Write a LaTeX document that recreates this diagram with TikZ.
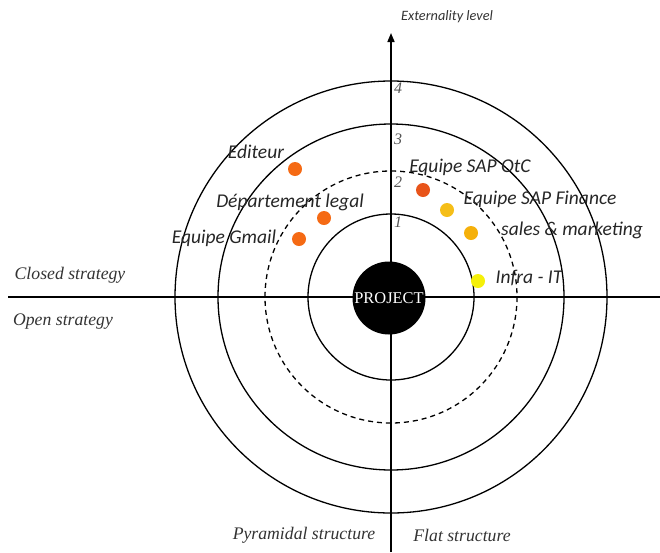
\documentclass[tikz,border=0pt]{standalone}
\usepackage{fontspec}
\setmainfont{Liberation Serif}
\newfontfamily\lblfont{Carlito}
\usetikzlibrary{arrows.meta}
\definecolor{redorange}{HTML}{E8541A}
\definecolor{orange}{HTML}{F56A14}
\definecolor{gold}{HTML}{F5BE18}
\definecolor{amber}{HTML}{F5B00A}
\definecolor{lemon}{HTML}{F5F00A}
\definecolor{numgray}{HTML}{555555}

\begin{document}
\begin{tikzpicture}[x=1pt,y=-1pt,
  ring/.style={draw,line width=1.3pt},
  dot/.style={circle,inner sep=0pt,minimum size=14pt},
  actor/.style={font=\lblfont\itshape\fontsize{19.5}{22}\selectfont,text=black!85,inner sep=0pt},
  side/.style={font=\itshape\fontsize{17.7}{20}\selectfont,text=black!80,inner sep=0pt},
  lvl/.style={font=\itshape\fontsize{16}{18}\selectfont,text=numgray,inner sep=0pt},
  axis/.style={line width=1.6pt}
]
\useasboundingbox (0,0) rectangle (660,552);
\coordinate (c) at (391,297);
% rings
\draw[ring] (c) circle[radius=216];
\draw[ring] (c) circle[radius=173];
\draw[ring,dashed,dash pattern=on 5pt off 4pt] (c) circle[radius=126];
\draw[ring] (c) circle[radius=83];
% axes
\coordinate (west) at (8,297); \coordinate (east) at (660,297);
\coordinate (south) at (391,552); \coordinate (north) at (391,33);
\draw[axis] (west) -- (east);
\draw[axis,-{Triangle[length=9pt,width=7pt]}] (south) -- (north);
\node[circle,fill=black,minimum size=73pt,inner sep=0pt,text=white,font=\fontsize{16.4}{18}\selectfont] (proj) at (389,298) {PROJECT};
% level numbers
\node[lvl] (l4) at (398,88) {4};
\node[lvl] (l3) at (398,139) {3};
\node[lvl] (l2) at (398,182) {2};
\node[lvl] (l1) at (398,222) {1};
% axis labels
\node[font=\lblfont\itshape\fontsize{14.3}{16}\selectfont,text=black!80] (ext) at (447,17) {Externality level};
\node[side] (closed) at (70,275) {Closed strategy};
\node[side] (open) at (63,322) {Open strategy};
\node[side] (pyr) at (304,535) {Pyramidal structure};
\node[side] (flat) at (462,535) {Flat structure};
% actors
\node[dot,fill=orange] (editeur) at (295,169) {};
\node[dot,fill=orange] (legal) at (324,218) {};
\node[dot,fill=orange] (gmail) at (299,239) {};
\node[dot,fill=redorange] (otc) at (423,190) {};
\node[dot,fill=gold] (fin) at (447,210) {};
\node[dot,fill=amber] (sales) at (471,233) {};
\node[dot,fill=lemon] (infra) at (478,281) {};
\node[actor] at (256,152) {Editeur};
\node[actor] at (290,202) {Département legal};
\node[actor] at (224,238) {Equipe Gmail};
\node[actor] at (470,167) {Equipe SAP OtC};
\node[actor] at (540,199) {Equipe SAP Finance};
\node[actor] at (572,230) {sales \& marketing};
\node[actor] at (529,278) {Infra - IT};
\end{tikzpicture}
\end{document}
